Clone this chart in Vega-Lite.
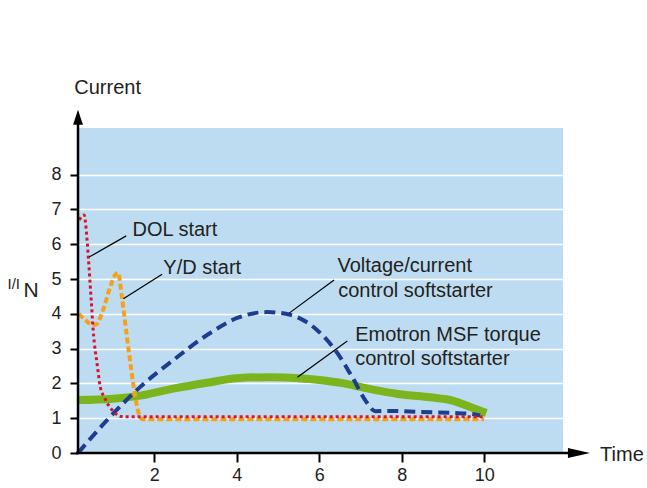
{
  "$schema": "https://vega.github.io/schema/vega-lite/v6.json",
  "width": 485,
  "height": 325,
  "autosize": "none",
  "padding": {"left": 78, "top": 128, "right": 84, "bottom": 35},
  "background": "white",
  "config": {
    "view": {"fill": "#bddcf1", "stroke": null},
    "font": "Liberation Sans",
    "axis": {"domain": false, "title": null, "labelFont": "Liberation Sans", "labelFontSize": 18, "labelColor": "#231f20", "tickColor": "#000000", "tickWidth": 2}
  },
  "datasets": {
    "curves": [
      {"series": "DOL", "t": 0.18, "i": 6.70},
      {"series": "DOL", "t": 0.30, "i": 6.84},
      {"series": "DOL", "t": 0.35, "i": 6.40},
      {"series": "DOL", "t": 0.40, "i": 5.63},
      {"series": "DOL", "t": 0.47, "i": 4.40},
      {"series": "DOL", "t": 0.52, "i": 3.50},
      {"series": "DOL", "t": 0.62, "i": 2.50},
      {"series": "DOL", "t": 0.69, "i": 1.90},
      {"series": "DOL", "t": 0.80, "i": 1.58},
      {"series": "DOL", "t": 0.90, "i": 1.35},
      {"series": "DOL", "t": 1.01, "i": 1.20},
      {"series": "DOL", "t": 1.18, "i": 1.05},
      {"series": "DOL", "t": 1.50, "i": 1.04},
      {"series": "DOL", "t": 10.0, "i": 1.04},
      {"series": "YD", "t": 0.17, "i": 4.00},
      {"series": "YD", "t": 0.35, "i": 3.80},
      {"series": "YD", "t": 0.50, "i": 3.68},
      {"series": "YD", "t": 0.60, "i": 3.70},
      {"series": "YD", "t": 0.74, "i": 4.05},
      {"series": "YD", "t": 0.93, "i": 4.77},
      {"series": "YD", "t": 1.05, "i": 5.12},
      {"series": "YD", "t": 1.12, "i": 5.18},
      {"series": "YD", "t": 1.22, "i": 4.43},
      {"series": "YD", "t": 1.34, "i": 3.30},
      {"series": "YD", "t": 1.44, "i": 2.40},
      {"series": "YD", "t": 1.54, "i": 1.60},
      {"series": "YD", "t": 1.62, "i": 1.15},
      {"series": "YD", "t": 1.72, "i": 0.97},
      {"series": "YD", "t": 10.0, "i": 0.97},
      {"series": "VC", "t": 0.15, "i": 0.00},
      {"series": "VC", "t": 0.86, "i": 0.95},
      {"series": "VC", "t": 1.66, "i": 1.90},
      {"series": "VC", "t": 2.46, "i": 2.67},
      {"series": "VC", "t": 3.28, "i": 3.39},
      {"series": "VC", "t": 4.01, "i": 3.88},
      {"series": "VC", "t": 4.74, "i": 4.05},
      {"series": "VC", "t": 5.30, "i": 3.97},
      {"series": "VC", "t": 5.95, "i": 3.53},
      {"series": "VC", "t": 6.44, "i": 2.87},
      {"series": "VC", "t": 6.80, "i": 2.18},
      {"series": "VC", "t": 7.16, "i": 1.44},
      {"series": "VC", "t": 7.36, "i": 1.20},
      {"series": "VC", "t": 7.72, "i": 1.21},
      {"series": "VC", "t": 8.45, "i": 1.18},
      {"series": "VC", "t": 9.25, "i": 1.15},
      {"series": "VC", "t": 9.70, "i": 1.12},
      {"series": "VC", "t": 9.90, "i": 1.08},
      {"series": "MSF", "t": 0.15, "i": 1.52},
      {"series": "MSF", "t": 1.00, "i": 1.56},
      {"series": "MSF", "t": 1.66, "i": 1.65},
      {"series": "MSF", "t": 2.46, "i": 1.85},
      {"series": "MSF", "t": 3.28, "i": 2.02},
      {"series": "MSF", "t": 4.00, "i": 2.15},
      {"series": "MSF", "t": 4.80, "i": 2.18},
      {"series": "MSF", "t": 5.50, "i": 2.15},
      {"series": "MSF", "t": 6.00, "i": 2.10},
      {"series": "MSF", "t": 6.60, "i": 2.00},
      {"series": "MSF", "t": 7.07, "i": 1.88},
      {"series": "MSF", "t": 7.50, "i": 1.78},
      {"series": "MSF", "t": 8.00, "i": 1.68},
      {"series": "MSF", "t": 8.69, "i": 1.60},
      {"series": "MSF", "t": 9.25, "i": 1.50},
      {"series": "MSF", "t": 9.66, "i": 1.32},
      {"series": "MSF", "t": 10.05, "i": 1.15}
    ],
    "leaders": [
      {"x1": 0.42, "y1": 5.63, "x2": 1.32, "y2": 6.24},
      {"x1": 1.25, "y1": 4.43, "x2": 2.19, "y2": 5.14},
      {"x1": 5.27, "y1": 4.02, "x2": 6.36, "y2": 4.97},
      {"x1": 5.47, "y1": 2.18, "x2": 6.68, "y2": 3.22}
    ],
    "labels": [
      {"x": 1.47, "y": 6.42, "text": "DOL start"},
      {"x": 2.22, "y": 5.32, "text": "Y/D start"},
      {"x": 6.44, "y": 5.36, "text": "Voltage/current"},
      {"x": 6.46, "y": 4.67, "text": "control softstarter"},
      {"x": 6.87, "y": 3.38, "text": "Emotron MSF torque"},
      {"x": 6.87, "y": 2.70, "text": "control softstarter"},
      {"x": 0.06, "y": 10.49, "text": "Current"},
      {"x": 12.81, "y": -0.06, "text": "Time"}
    ]
  },
  "layer": [
    {
      "data": {"name": "curves"},
      "transform": [{"filter": "datum.series === 'MSF'"}],
      "mark": {"type": "line", "color": "#7cb41e", "strokeWidth": 8, "interpolate": "monotone", "strokeCap": "butt"},
      "encoding": {
        "x": {"field": "t", "type": "quantitative", "scale": {"domain": [0.15, 11.91], "nice": false, "zero": false}, "axis": {"values": [2, 4, 6, 8, 10], "tickSize": 9, "labelPadding": 4, "grid": false}},
        "y": {"field": "i", "type": "quantitative", "scale": {"domain": [0, 9.34], "nice": false}, "axis": {"values": [0, 1, 2, 3, 4, 5, 6, 7, 8], "tickSize": 8, "labelPadding": 9, "grid": true, "gridColor": "#ffffff", "gridWidth": 1.5, "gridOpacity": 1}}
      }
    },
    {
      "data": {"name": "curves"},
      "transform": [{"filter": "datum.series === 'VC'"}],
      "mark": {"type": "line", "color": "#1d3e8e", "strokeWidth": 4, "interpolate": "monotone", "strokeDash": [11, 6]},
      "encoding": {"x": {"field": "t", "type": "quantitative"}, "y": {"field": "i", "type": "quantitative"}}
    },
    {
      "data": {"name": "curves"},
      "transform": [{"filter": "datum.series === 'YD'"}],
      "mark": {"type": "line", "color": "#f7a11a", "strokeWidth": 4, "interpolate": "monotone", "strokeDash": [6, 3]},
      "encoding": {"x": {"field": "t", "type": "quantitative"}, "y": {"field": "i", "type": "quantitative"}}
    },
    {
      "data": {"name": "curves"},
      "transform": [{"filter": "datum.series === 'DOL'"}],
      "mark": {"type": "line", "color": "#d7132d", "strokeWidth": 3, "interpolate": "monotone", "strokeDash": [3, 3]},
      "encoding": {"x": {"field": "t", "type": "quantitative"}, "y": {"field": "i", "type": "quantitative"}}
    },
    {
      "data": {"name": "leaders"},
      "mark": {"type": "rule", "color": "#000000", "strokeWidth": 1.2},
      "encoding": {
        "x": {"field": "x1", "type": "quantitative"},
        "y": {"field": "y1", "type": "quantitative"},
        "x2": {"field": "x2"},
        "y2": {"field": "y2"}
      }
    },
    {
      "data": {"name": "labels"},
      "mark": {"type": "text", "align": "left", "baseline": "middle", "fontSize": 20, "color": "#231f20", "font": "Liberation Sans"},
      "encoding": {
        "x": {"field": "x", "type": "quantitative"},
        "y": {"field": "y", "type": "quantitative"},
        "text": {"field": "text"}
      }
    },
    {
      "data": {"values": [{}]},
      "mark": {"type": "text", "align": "left", "baseline": "middle", "fontSize": 15, "color": "#231f20"},
      "encoding": {"x": {"datum": -1.56}, "y": {"datum": 4.86}, "text": {"value": "I/I"}}
    },
    {
      "data": {"values": [{}]},
      "mark": {"type": "text", "align": "left", "baseline": "middle", "fontSize": 21, "color": "#231f20"},
      "encoding": {"x": {"datum": -1.17}, "y": {"datum": 4.67}, "text": {"value": "N"}}
    },
    {
      "data": {"values": [{}]},
      "mark": {"type": "rule", "color": "#000000", "strokeWidth": 2.5},
      "encoding": {"x": {"datum": 0.15}, "y": {"datum": 0}, "y2": {"datum": 9.5}}
    },
    {
      "data": {"values": [{}]},
      "mark": {"type": "rule", "color": "#000000", "strokeWidth": 2.5},
      "encoding": {"y": {"datum": 0}, "x": {"datum": 0.1}, "x2": {"datum": 12.1}}
    },
    {
      "data": {"values": [{}]},
      "mark": {"type": "point", "shape": "M0,-1L0.33,0L-0.33,0Z", "size": 900, "filled": true, "color": "#000000", "opacity": 1, "strokeWidth": 0},
      "encoding": {"x": {"datum": 0.15}, "y": {"datum": 9.43}}
    },
    {
      "data": {"values": [{}]},
      "mark": {"type": "point", "shape": "M1,0L0,-0.23L0,0.23Z", "size": 1936, "filled": true, "color": "#000000", "opacity": 1, "strokeWidth": 0},
      "encoding": {"x": {"datum": 12.03}, "y": {"datum": 0}}
    }
  ]
}
